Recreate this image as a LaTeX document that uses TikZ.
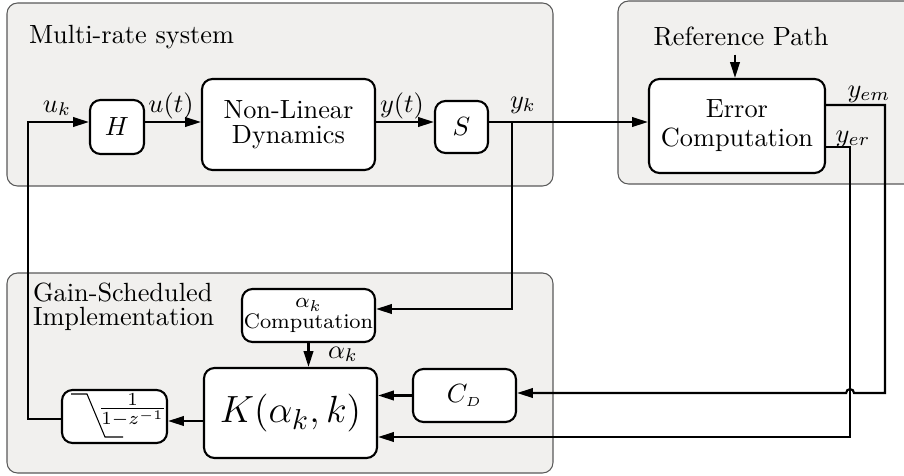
\documentclass[tikz,border=0pt]{standalone}
\usetikzlibrary{arrows.meta,positioning,backgrounds}
\definecolor{grpgray}{RGB}{241,240,238}
\newcommand{\px}{0.38pt}

\begin{document}
\begin{tikzpicture}
  [x=\px,y=-\px,>={Triangle[length=6pt,width=3.6pt]},thick,%全局设置:坐标单位、箭头样式、线宽
   blk/.style={draw,thick,rounded corners=4pt,fill=white,align=center,inner sep=0pt},%方块样式
   grp/.style={draw=black!65,thin,fill=grpgray,rounded corners=4pt},%分组背景样式
   lbl/.style={inner sep=0pt,anchor=base}]%信号标签样式

  \useasboundingbox (0,0) rectangle (904,475);

  % 三个分组背景
  \draw[grp] (7,3) rectangle (553,186);
  \draw[grp] (618,1) rectangle (915,184);
  \draw[grp] (7,273) rectangle (553,473);

  \node[inner sep=0pt,anchor=base west] (mrs) at (28,43) {Multi-rate system};
  \node[inner sep=0pt,anchor=base] (RP) at (741,45) {Reference Path};
  \node[inner sep=0pt,anchor=west,align=left] (gsi) at (32,306.8) {Gain-Scheduled\\[-3pt]Implementation};

  % 方块
  \node[blk,minimum width=54*\px,minimum height=54*\px] (H) at (117,127) {$H$};
  \node[blk,minimum width=173*\px,minimum height=91*\px] (NL) at (288.5,124.5) {Non-Linear\\[-2.5pt]Dynamics};
  \node[blk,minimum width=53*\px,minimum height=52*\px] (S) at (461.5,127) {$S$};
  \node[blk,minimum width=176*\px,minimum height=94*\px] (EC) at (737,126) {Error\\[-1pt]Computation};
  \node[blk,minimum width=133*\px,minimum height=53*\px,font=\footnotesize] (AC) at (308.5,315.5) {$\alpha_k$\\[-1.5pt]Computation};
  \node[blk,minimum width=173*\px,minimum height=90*\px,font=\fontsize{15.5}{18}\selectfont] (K) at (290.5,413) {$K(\alpha_k,k)$};
  \node[blk,minimum width=103*\px,minimum height=53*\px] (CD) at (464.5,395.5) {$C_{\scriptscriptstyle D}$};
  \node[blk,minimum width=105*\px,minimum height=53*\px] (IN) at (114.5,416.5) {};%积分器
  \node[inner sep=0pt] (frac) at (132.5,410) {$\frac{1}{1-z^{-1}}$};
  \draw[thin] (71,394) -- (87,394) -- (105,437) -- (123,437);%饱和符号

  % 信号标签
  \node[lbl] (uk) at (57,112) {$u_k$};
  \node[lbl] (ut) at (171,112) {$u(t)$};
  \node[lbl] (yt) at (402,112) {$y(t)$};
  \node[lbl] (yk) at (523,108) {$y_k$};
  \node[lbl] (yem) at (869,97) {$y_{em}$};
  \node[lbl] (yer) at (853,142) {$y_{er}$};
  \node[lbl] (ak) at (343,358) {$\alpha_k$};

  % 连线
  \coordinate (main) at (0,122);
  \coordinate (br) at (512,122);
  \coordinate (fb) at (28,122);
  \coordinate (em) at (885,393);
  \coordinate (er) at (850,437);

  \draw[->] (H.east |- main) -- (NL.west |- main);
  \draw[->] (NL.east |- main) -- (S.west |- main);
  \draw[->] (S.east |- main) -- (EC.west |- main);
  \draw[->] (br) |- (AC.east |- 0,309);
  \draw[->] ([yshift=-3pt]RP.south -| 735,0) -- (EC.north -| 735,0);
  \draw[->] (EC.east |- 0,105) -| (em) -- (854,393)
    arc[start angle=0,end angle=180,radius=1.5pt] -- (CD.east |- em);%跳线
  \draw[->] (EC.east |- 0,147) -| (er) -- (K.east |- er);
  \draw[->] (CD.west) -- (K.east |- CD.west);
  \draw[->] (AC.south) -- (K.north -| AC.south);
  \draw[->] (K.west |- 0,421) -- (IN.east |- 0,421);
  \draw[->] (IN.west |- 0,419) -| (fb) -- (H.west |- fb);

\end{tikzpicture}
\end{document}
